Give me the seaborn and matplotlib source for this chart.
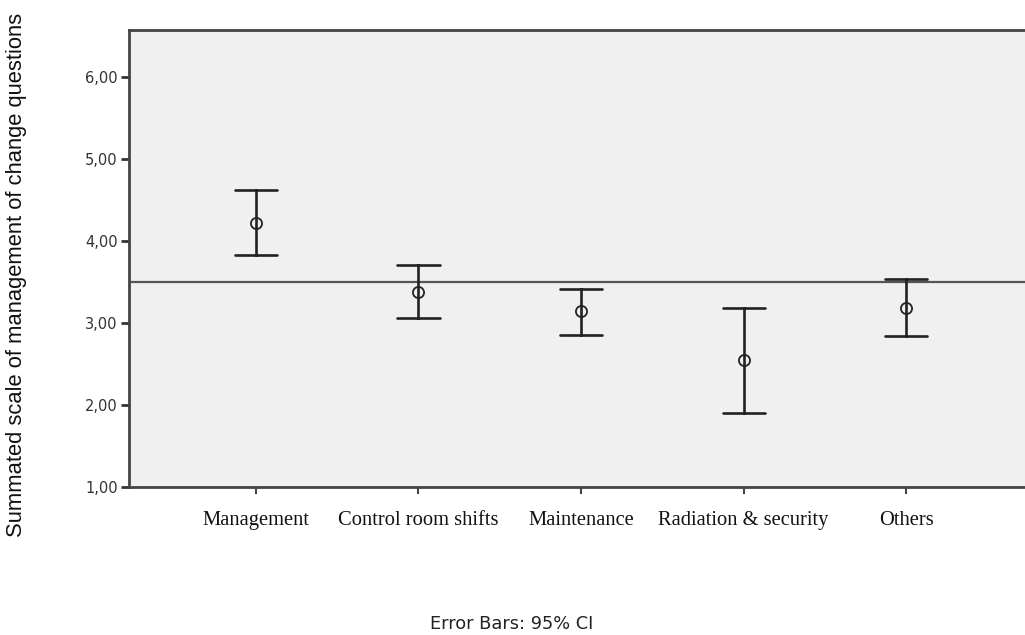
import numpy as np
import pandas as pd
import matplotlib
matplotlib.use("Agg")
import matplotlib.pyplot as plt
import seaborn as sns

# group means and 95% CI bounds
groups = ["Management", "Control room shifts", "Maintenance", "Radiation & security", "Others"]
means = [4.22, 3.38, 3.15, 2.55, 3.18]
ci_low = [3.83, 3.06, 2.85, 1.90, 2.84]
ci_high = [4.62, 3.70, 3.41, 3.18, 3.54]
reference = 3.50
yticks = [1, 2, 3, 4, 5, 6]

# long table: low / mean / high per group, median gives the mean, min-max gives the CI
rows = []
for g, lo, m, hi in zip(groups, ci_low, means, ci_high):
    for v in (lo, m, hi):
        rows.append({"group": g, "score": v})
df = pd.DataFrame(rows)

sns.set_theme(style="white")
plt.rcParams["font.family"] = ["DejaVu Sans"]

fig = plt.figure(figsize=(10.25, 6.35), dpi=100)
ax = fig.add_axes([129 / 1025, 148 / 635, 896 / 1025, 457 / 635])
ax.set_facecolor("#f0f0f0")

ax.axhline(reference, color="#555555", linewidth=1.6, zorder=1)

sns.pointplot(data=df, x="group", y="score", order=groups,
              estimator="median", errorbar=lambda v: (v.min(), v.max()),
              linestyle="none", marker="o", markersize=8,
              markerfacecolor="none", markeredgewidth=1.3,
              color="#222222", capsize=0.26,
              err_kws={"linewidth": 1.9}, ax=ax)

ax.set_xlim(-0.78, 4.73)
ax.set_ylim(1, 6.57)
ax.set_yticks(yticks)
ax.set_yticklabels([f"{t:.2f}".replace(".", ",") for t in yticks],
                   fontsize=10.5, family="DejaVu Sans", color="#333333")
ax.set_xticks(range(len(groups)))
ax.set_xticklabels(groups, fontsize=14.8, family="Liberation Serif", color="#111111")
ax.set_xlabel("")
ax.set_ylabel("")

ax.tick_params(axis="y", direction="out", length=6, width=2, color="#333333", pad=2, left=True)
ax.tick_params(axis="x", direction="out", length=5, width=1.5, color="#444444", pad=12, bottom=True)

for side in ["left", "bottom", "top"]:
    ax.spines[side].set_color("#444444")
    ax.spines[side].set_linewidth(2)
ax.spines["right"].set_visible(False)

fig.text(17 / 1025, 1 - 275 / 635, "Summated scale of management of change questions",
         rotation=90, ha="center", va="center", fontsize=15.8,
         family="Liberation Sans", color="#111111")
fig.text(512 / 1025, 1 - 624 / 635, "Error Bars: 95% CI", ha="center", va="center",
         fontsize=12.8, family="DejaVu Sans", color="#222222")

fig.savefig("out.png", dpi=100)
